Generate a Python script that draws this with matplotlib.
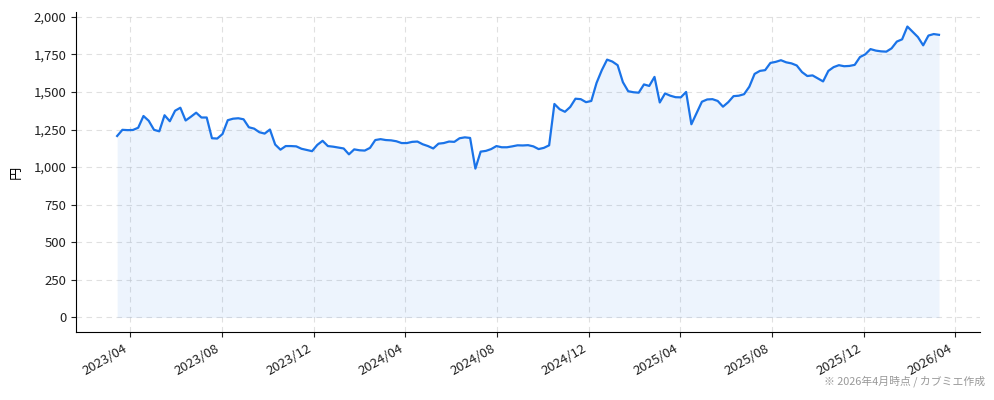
import matplotlib
matplotlib.use("Agg")
import matplotlib.pyplot as plt
import matplotlib.dates as mdates
from matplotlib.ticker import FuncFormatter, MultipleLocator
import pandas as pd

plt.rcParams['font.family'] = ['Noto Sans CJK JP', 'DejaVu Sans']

start_date = "2023-03-15"
prices = [
    1207, 1248, 1246, 1247, 1262, 1340, 1308, 1248, 1238, 1345,
    1305, 1375, 1395, 1310, 1335, 1362, 1330, 1330, 1192, 1190,
    1220, 1312, 1322, 1325, 1318, 1265, 1256, 1232, 1223, 1250,
    1150, 1116, 1140, 1140, 1138, 1122, 1114, 1106, 1148, 1175,
    1140, 1136, 1130, 1124, 1085, 1118, 1112, 1110, 1128, 1180,
    1186, 1180, 1178, 1172, 1160, 1160, 1168, 1170, 1152, 1140,
    1124, 1156, 1160, 1170, 1168, 1192, 1198, 1194, 990, 1103,
    1108, 1120, 1140, 1132, 1132, 1138, 1145, 1144, 1146, 1138,
    1120, 1128, 1145, 1420, 1385, 1368, 1400, 1455, 1452, 1432,
    1440, 1560, 1645, 1715, 1702, 1678, 1565, 1505, 1498, 1495,
    1550, 1540, 1600, 1430, 1490, 1475, 1465, 1464, 1500, 1285,
    1360, 1435, 1450, 1452, 1440, 1402, 1432, 1472, 1475, 1485,
    1535, 1620, 1640, 1645, 1693, 1700, 1711, 1697, 1690, 1676,
    1632, 1606, 1610, 1590, 1570, 1640, 1665, 1678, 1671, 1673,
    1680, 1732, 1750, 1785, 1775, 1770, 1768, 1790, 1835, 1850,
    1935, 1900, 1865, 1810, 1875, 1885, 1880,
]
dates = pd.date_range(start_date, periods=len(prices), freq="7D")

y_label = "円"
note = "※ 2026年4月時点 / カブミエ作成"

fig = plt.figure(figsize=(9.94, 4.0), dpi=100)
ax = fig.add_axes([0.0765, 0.17, 0.9095, 0.80])

line_color = "#1a73e8"
ax.fill_between(dates, prices, 0, color=line_color, alpha=0.08, linewidth=0)
ax.plot(dates, prices, color=line_color, linewidth=1.6)

ax.xaxis.set_major_locator(mdates.MonthLocator(bymonth=[4, 8, 12]))
ax.xaxis.set_major_formatter(mdates.DateFormatter("%Y/%m"))
ax.yaxis.set_major_locator(MultipleLocator(250))
ax.yaxis.set_major_formatter(FuncFormatter(lambda v, p: f"{int(v):,}"))

ax.grid(True, linestyle=(0, (5, 4)), color="#cccccc", alpha=0.6, linewidth=0.8)
ax.set_axisbelow(True)
for s in ["top", "right"]:
    ax.spines[s].set_visible(False)

ax.tick_params(axis="both", labelsize=9.5, colors="#222222")
for lbl in ax.get_xticklabels():
    lbl.set_rotation(30)
    lbl.set_ha("right")
ax.set_ylabel(y_label, fontsize=9.5, labelpad=8)

fig.text(0.991, 0.033, note, ha="right", va="bottom", fontsize=7.8, color="#999999")

fig.savefig("out.png", dpi=100)
